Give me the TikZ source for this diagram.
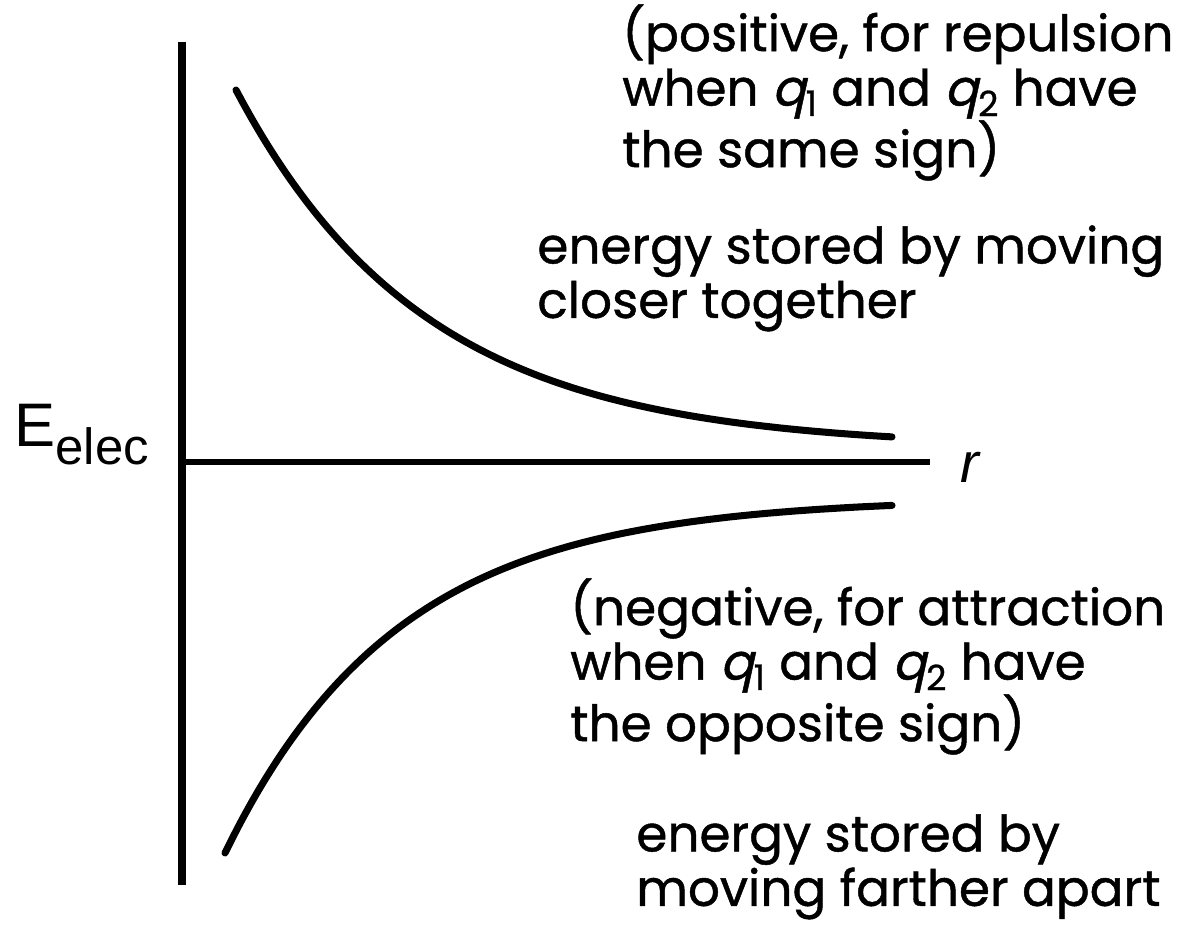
\documentclass[tikz,border=0pt]{standalone}
\usepackage{fontspec}
\setmainfont[FakeBold=0.9]{Poppins}
\newfontfamily\axisfont{Liberation Sans}
\newfontfamily\qfont[FakeSlant=0.22,FakeBold=0.9]{Poppins}
\usepackage{tikz}
\usetikzlibrary{positioning}

\newcommand{\qsub}[1]{{\qfont q}\textsubscript{#1}}

\begin{document}
\begin{tikzpicture}[
    x=0.02cm, y=-0.02cm,
    axisline/.style={line width=#1, line cap=butt},
    energycurve/.style={line width=4pt, line cap=round},
    notetext/.style={font=\fontsize{28.5}{31}\selectfont, align=left,
        anchor=north west, inner sep=0pt},
]
\useasboundingbox (0,0) rectangle (1183,928);

%% ========== AXES ==========
\coordinate (ytop) at (182,42);
\coordinate (ybot) at (182,885);
\coordinate (origin) at (182,462);
\coordinate (xend) at (930,462);
\draw[axisline=4.8pt] (ytop) -- (ybot);
\draw[axisline=3.6pt] (origin) -- (xend);

\node[font=\axisfont\fontsize{32}{32}\selectfont\itshape, inner sep=0pt,
    anchor=base west] (rlabel) at (960,483) {r};
\node[font=\axisfont\fontsize{35}{35}\selectfont, inner sep=0pt,
    anchor=base west] (elabel) at (14,447)
    {E\raisebox{-10pt}{\fontsize{29}{29}\selectfont elec}};

%% ========== CURVES ==========
%% repulsion (positive)
\draw[energycurve] plot[domain=236:892, samples=90, smooth]
    (\x, {462-14-358*exp(-0.0053*(\x-236))});
%% attraction (negative)
\draw[energycurve] plot[domain=225:892, samples=90, smooth]
    (\x, {462+36+355*exp(-0.0058*(\x-225))});

%% ========== LABELS ==========
\node[notetext] (pos) at (622,4) {(positive, for repulsion\\
    when \qsub{1} and \qsub{2} have\\ the same sign)};
\node[notetext] (closer) at (537,225) {energy stored by moving\\
    closer together};
\node[notetext] (neg) at (570,578) {(negative, for attraction\\
    when \qsub{1} and \qsub{2} have\\ the opposite sign)};
\node[notetext] (farther) at (636,814) {energy stored by\\
    moving farther apart};
\end{tikzpicture}
\end{document}
